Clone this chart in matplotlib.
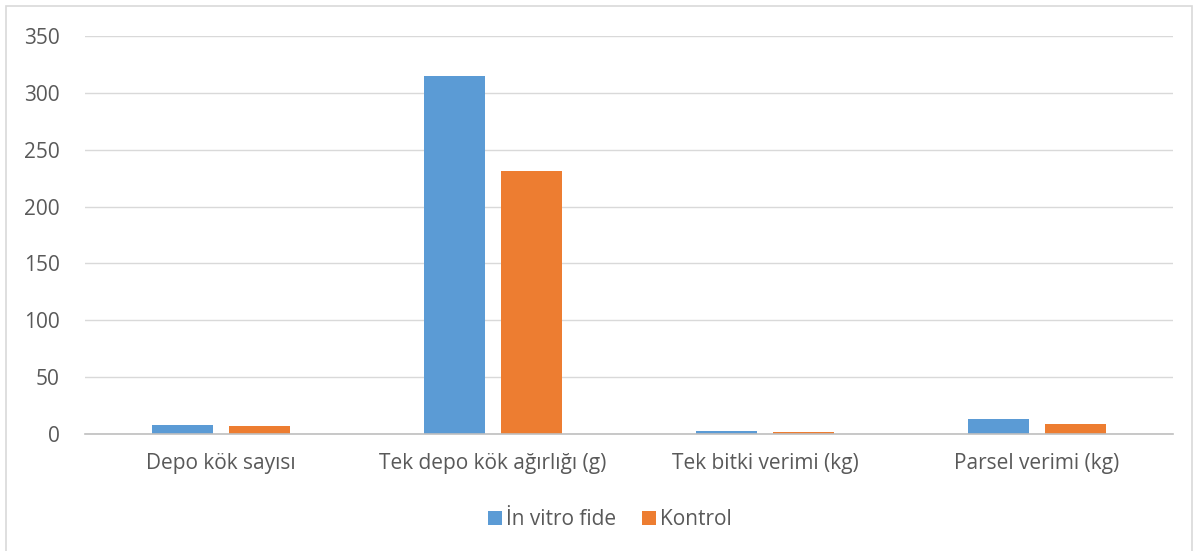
import matplotlib.pyplot as plt
import numpy as np
from matplotlib.patches import Rectangle

categories = ['Depo kök sayısı', 'Tek depo kök ağırlığı (g)', 'Tek bitki verimi (kg)', 'Parsel verimi (kg)']
invitro = [7.9, 314.8, 2.6, 13.2]
kontrol = [6.8, 231.3, 1.8, 8.8]
yticks = np.arange(0, 351, 50)

plt.rcParams['font.family'] = ['Open Sans', 'DejaVu Sans']

fig = plt.figure(figsize=(11.93, 5.51), dpi=100)
ax = fig.add_axes([0.0712, 0.2123, 0.912, 0.7224])

# chart border
fig.patches.append(Rectangle((6/1193, -0.05), 1186/1193, 1.05 - 6/551, transform=fig.transFigure,
                             fill=False, edgecolor='#d9d9d9', linewidth=1.2))

x = np.arange(len(categories))
w = 0.224
ax.bar(x - 0.143, invitro, w, color='#5b9bd5', label='İn vitro fide', zorder=3)
ax.bar(x + 0.143, kontrol, w, color='#ed7d31', label='Kontrol', zorder=3)

ax.set_xlim(-0.5, 3.5)
ax.set_ylim(0, 350)
ax.set_yticks(yticks)
ax.set_xticks(x)
ax.set_xticklabels(categories)
ax.yaxis.grid(True, color='#d9d9d9', linewidth=1, zorder=0)
for s in ['top', 'right', 'left']:
    ax.spines[s].set_visible(False)
ax.spines['bottom'].set_color('#bfbfbf')
ax.spines['bottom'].set_linewidth(1.2)
ax.spines['bottom'].set_zorder(4)
ax.tick_params(axis='both', length=0, labelsize=15, labelcolor='#595959')
ax.tick_params(axis='x', pad=14)
ax.tick_params(axis='y', pad=18)

ax.legend(loc='center', bbox_to_anchor=(0.4825, -0.215), ncol=2, frameon=False,
          fontsize=15, labelcolor='#595959', handlelength=0.7, handleheight=0.7,
          handletextpad=0.2, columnspacing=1.2)

plt.savefig('out.png', dpi=100)
